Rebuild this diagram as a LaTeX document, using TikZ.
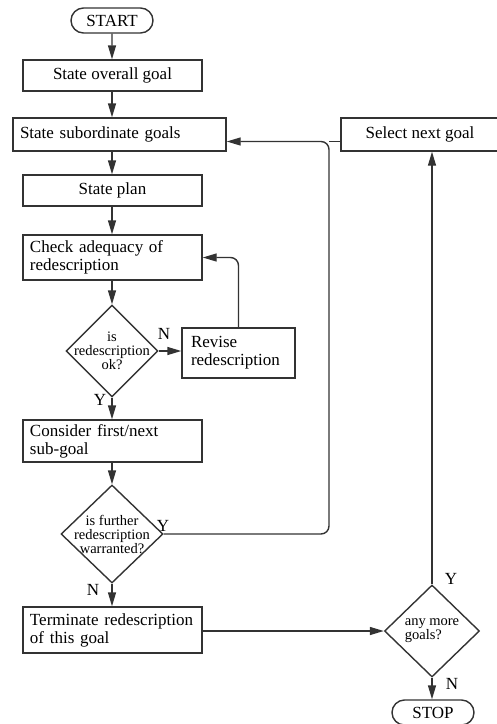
\documentclass[tikz,border=0pt]{standalone}
\usepackage{fontspec}
\setmainfont{Liberation Serif}
\usetikzlibrary{shapes.geometric, shapes.misc, arrows.meta}

\begin{document}
\begin{tikzpicture}[x=1pt, y=1pt]
  \newcommand\colboxwidth{179pt}
  \newcommand\flowlinewidth{1.4pt} % about one and a half pixel in the scan
  \newcommand\boxfont{\fontsize{17}{18}\selectfont}
  \newcommand\diafont{\fontsize{14.5}{14}\selectfont}

  \tikzset{flowbox/.style={draw=black!80, line width=\flowlinewidth, rectangle, inner ysep=3pt, font=\boxfont}}
  \tikzset{centerbox/.style={flowbox, minimum width=\colboxwidth, minimum height=31pt, align=center}}
  \tikzset{leftbox/.style={flowbox, inner xsep=7pt, text width=165pt, align=left}}
  \tikzset{terminal/.style={draw=black!80, line width=\flowlinewidth, rounded rectangle, minimum width=82pt, minimum height=25pt, inner sep=0pt, font=\boxfont}}
  \tikzset{decision/.style={draw=black!80, line width=\flowlinewidth, diamond, inner sep=0pt}}
  \tikzset{dtext/.style={font=\diafont, align=center, inner sep=0pt}}
  \tikzset{answer/.style={font=\boxfont, inner sep=0pt}}
  \tikzset{flowline/.style={draw=black!80, line width=\flowlinewidth, -{Triangle[length=14pt, width=8pt]}}}
  \tikzset{plainline/.style={draw=black!80, line width=\flowlinewidth}}

  \useasboundingbox (0,0) rectangle (497,-724);

  \node[terminal] (start) at (112,-20.5) {START};
  \node[centerbox] (overall) at (112.5,-75.5) {State overall goal};
  \node[leftbox, text width=199pt, minimum height=33pt] (subord) at (119.5,-134.5) {State subordinate goals};
  \node[centerbox, minimum width=158pt, minimum height=33pt] (select) at (420,-134.5) {Select next goal};
  \node[centerbox] (plan) at (112.5,-190.5) {State plan};
  \node[leftbox, minimum height=45pt] (check) at (112.5,-257.5) {Check adequacy of\\redescription};
  \node[decision, minimum width=92pt, minimum height=92pt, label={[dtext]center:{is\\redescription\\ok?}}] (isok) at (112,-351) {};
  \node[leftbox, text width=95pt, inner xsep=9pt, minimum height=50pt] (revise) at (238.5,-353) {Revise\\redescription};
  \node[leftbox, minimum height=42pt] (consider) at (112.5,-441) {Consider first/next\\sub-goal};
  \node[decision, minimum width=102pt, minimum height=98pt, label={[dtext]center:{is further\\redescription\\warranted?}}] (further) at (112,-534) {};
  \node[leftbox, minimum height=46pt] (terminate) at (112.5,-630) {Terminate redescription\\of this goal};
  \node[decision, minimum width=95pt, minimum height=92pt, label={[dtext, align=left]center:{any more\\goals?}}] (more) at (432,-631) {};
  \node[terminal] (stop) at (433,-712.5) {STOP};

  \node[answer] (isok-n) at (164,-334) {N};
  \node[answer] (isok-y) at (100,-400) {Y};
  \node[answer] (further-y) at (163,-526) {Y};
  \node[answer] (further-n) at (93,-590) {N};
  \node[answer] (more-y) at (451,-579) {Y};
  \node[answer] (more-n) at (452,-684) {N};

  \coordinate (join) at (329,-141.5);

  \draw[flowline] (start) -- (start |- overall.north);
  \draw[flowline] (start |- overall.south) -- (start |- subord.north);
  \draw[flowline] (start |- subord.south) -- (start |- plan.north);
  \draw[flowline] (start |- plan.south) -- (start |- check.north);
  \draw[flowline] (isok |- check.south) -- (isok);
  \draw[flowline] (isok.east) -- (revise.west |- isok.east);
  \draw[flowline, rounded corners=8pt] (revise.north) |- (check.east);
  \draw[flowline] (isok.south) -- (isok |- consider.north);
  \draw[flowline] (further |- consider.south) -- (further.north);
  \draw[flowline] (further.south) -- (further |- terminate.north);
  \draw[flowline, rounded corners=8pt] (further.east) -| (join) -- ([yshift=-7pt]subord.east);
  \draw[plainline] ([yshift=-7pt]select.west) -- (join);
  \draw[flowline] (terminate.east |- more.west) -- (more.west);
  \draw[flowline] (more.north) -- (more |- select.south);
  \draw[flowline] (more.south) -- (more |- stop.north);
\end{tikzpicture}
\end{document}
